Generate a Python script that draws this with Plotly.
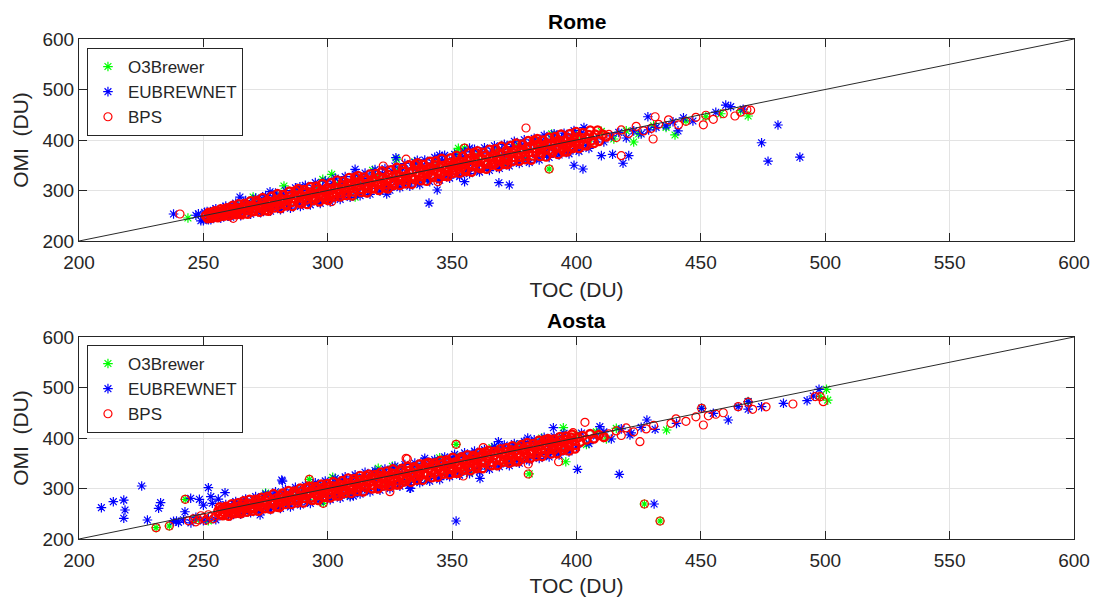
import plotly.graph_objects as go

# ---------------- Rome ----------------
rome_o3_toc = [252, 256, 260, 264, 268, 272, 276, 280, 284, 288,
               292, 296, 300, 304, 308, 312, 316, 320, 324, 328,
               332, 336, 340, 344, 348, 352, 356, 360, 364, 368,
               372, 376, 380, 384, 388, 392, 396, 400, 405, 410,
               243.8, 282.4, 301.6, 327.7, 352.5, 423, 439.6, 469, 415, 420,
               425, 431, 436, 444, 452, 458, 466, 389, 355,
               270, 298, 318, 335, 352, 372, 390, 311]
rome_o3_omi = [244, 261, 250, 270, 257, 279, 264, 288, 271, 297,
               278, 305, 284, 313, 293, 322, 299, 329, 308, 339,
               315, 346, 322, 355, 332, 364, 339, 370, 346, 379,
               356, 388, 363, 394, 370, 403, 381, 410, 391, 417,
               245.5, 309, 332, 362, 383.6, 396, 410, 447.5, 402, 418,
               412, 428, 425, 438, 446, 452, 458, 342.6, 384,
               287, 322, 340, 357, 376, 352, 412, 287]

rome_eub_toc = [247, 249, 250.5, 252, 254, 256, 258, 260, 262, 264,
                266, 268, 270, 272, 274, 276, 278, 280, 282, 284,
                286, 288, 290, 292, 294, 296, 298, 300, 302, 304,
                306, 308, 310, 312, 314, 316, 318, 320, 322, 324,
                326, 328, 330, 332, 334, 336, 338, 340, 342, 344,
                346, 348, 350, 352, 354, 356, 358, 360, 362, 364,
                366, 368, 370, 372, 374, 376, 378, 380, 382, 384,
                386, 388, 390, 392, 394, 396, 398, 400, 402, 404,
                248, 250, 251.5, 253, 255, 257, 259, 261, 263, 265,
                267, 269, 271, 273, 275, 277, 279, 281, 283, 285,
                287, 289, 291, 293, 295, 297, 299, 301, 303, 305,
                307, 309, 311, 313, 315, 317, 319, 321, 323, 325,
                327, 329, 331, 333, 335, 337, 339, 341, 343, 345,
                347, 349, 351, 353, 355, 357, 359, 361, 363, 365,
                367, 369, 371, 373, 375, 377, 379, 381, 383, 385,
                387, 389, 391, 393, 395, 397, 399, 401, 403, 405,
                262, 275, 289, 301, 315, 327, 343, 357, 371, 389,
                408, 411, 414, 417, 420, 423, 426, 429, 432, 436,
                238, 323.7, 340.7, 355, 368.8, 373, 399, 402.6, 410, 414.5,
                421, 418.7, 474.4, 481, 477, 489.8, 460, 467, 456, 446.8,
                440.8, 438.8, 428.7, 462, 311, 327.4, 357, 336, 345, 264.7,
                276.8, 288.8, 344, 443]
rome_eub_omi = [251, 240, 257, 242, 261, 247, 266, 249, 269, 254,
                274, 257, 278, 259, 283, 264, 286, 266, 292, 271,
                295, 273, 300, 278, 305, 280, 307, 283, 314, 289,
                317, 292, 322, 295, 324, 298, 331, 304, 333, 306,
                338, 311, 343, 314, 345, 317, 350, 323, 355, 326,
                359, 330, 361, 333, 366, 339, 371, 342, 374, 345,
                378, 349, 381, 354, 387, 359, 390, 361, 393, 366,
                399, 371, 402, 376, 405, 378, 408, 383, 414, 389,
                254, 240, 258.5, 242, 264, 245, 269, 247, 275, 250,
                280, 253, 285, 256, 290, 259, 295, 262, 300, 265,
                305.5, 268.5, 310.5, 271.5, 315.5, 274.5, 318.5, 277.5, 324.5, 282.5,
                327.5, 286.5, 332.5, 289.5, 334.5, 292.5, 341.5, 298.5, 343.5, 300.5,
                348.5, 305.5, 353.5, 308.5, 355.5, 311.5, 360.5, 317.5, 365.5, 320.5,
                369.5, 324.5, 371.5, 327.5, 376.5, 333.5, 381.5, 336.5, 384.5, 339.5,
                388.5, 343.5, 391.5, 348.5, 397.5, 353.5, 400.5, 355.5, 403.5, 360.5,
                409.5, 365.5, 412.5, 370.5, 413.5, 372.5, 418.5, 377.5, 424.5, 383.5,
                262, 270, 288, 296, 315, 321, 343, 352, 370, 384,
                402, 396, 408, 415, 404, 418, 412, 420, 425, 428,
                253.5, 293, 275, 317.4, 315.4, 311, 350, 342.6, 369, 371.7,
                369, 354, 394.6, 429.7, 358, 366, 469, 461, 455, 437.6,
                418, 436, 446, 466, 342, 365, 384, 360, 370, 287,
                297.6, 307.5, 301, 444]

# BPS: dense core of the distribution
rome_bps_toc = [251, 251.8, 252.5, 253.3, 254, 254.8, 255.5, 256.3, 257, 257.8,
                258.5, 259.3, 260, 260.8, 261.5, 262.3, 263, 263.8, 264.5, 265.3,
                266, 266.8, 267.5, 268.3, 269, 269.8, 270.5, 271.3, 272, 272.8,
                273.5, 274.3, 275, 275.8, 276.5, 277.3, 278, 278.8, 279.5, 280.3,
                281, 281.8, 282.5, 283.3, 284, 284.8, 285.5, 286.3, 287, 287.8,
                288.5, 289.3, 290, 290.8, 291.5, 292.3, 293, 293.8, 294.5, 295.3,
                296, 296.8, 297.5, 298.3, 299, 299.8, 300.5, 301.3, 302, 302.8,
                303.5, 304.3, 305, 305.8, 306.5, 307.3, 308, 308.8, 309.5, 310.3,
                311, 311.8, 312.5, 313.3, 314, 314.8, 315.5, 316.3, 317, 317.8,
                318.5, 319.3, 320, 320.8, 321.5, 322.3, 323, 323.8, 324.5, 325.3,
                326, 326.8, 327.5, 328.3, 329, 329.8, 330.5, 331.3, 332, 332.8,
                333.5, 334.3, 335, 335.8, 336.5, 337.3, 338, 338.8, 339.5, 340.3,
                341, 341.8, 342.5, 343.3, 344, 344.8, 345.5, 346.3, 347, 347.8,
                348.5, 349.3, 350, 350.8, 351.5, 352.3, 353, 353.8, 354.5, 355.3,
                356, 356.8, 357.5, 358.3, 359, 359.8, 360.5, 361.3, 362, 362.8,
                363.5, 364.3, 365, 365.8, 366.5, 367.3, 368, 368.8, 369.5, 370.3,
                371, 371.8, 372.5, 373.3, 374, 374.8, 375.5, 376.3, 377, 377.8,
                378.5, 379.3, 380, 380.8, 381.5, 382.3, 383, 383.8, 384.5, 385.3,
                386, 386.8, 387.5, 388.3, 389, 389.8, 390.5, 391.3, 392, 392.8,
                393.5, 394.3, 395, 395.8, 396.5, 397.3, 398, 398.8, 399.5, 400.3,
                401, 402, 403, 404, 405, 406, 407.5, 409, 410.5, 412,
                252.2, 253.4, 254.6, 255.8, 257, 258.2, 259.4, 260.6, 261.8, 263,
                264.2, 265.4, 266.6, 267.8, 269, 270.2, 271.4, 272.6, 273.8, 275,
                276.2, 277.4, 278.6, 279.8, 281, 282.2, 283.4, 284.6, 285.8, 287,
                288.2, 289.4, 290.6, 291.8, 293, 294.2, 295.4, 296.6, 297.8, 299,
                300.2, 301.4, 302.6, 303.8, 305, 306.2, 307.4, 308.6, 309.8, 311,
                312.2, 313.4, 314.6, 315.8, 317, 318.2, 319.4, 320.6, 321.8, 323,
                324.2, 325.4, 326.6, 327.8, 329, 330.2, 331.4, 332.6, 333.8, 335,
                336.2, 337.4, 338.6, 339.8, 341, 342.2, 343.4, 344.6, 345.8, 347,
                348.2, 349.4, 350.6, 351.8, 353, 354.2, 355.4, 356.6, 357.8, 359,
                360.2, 361.4, 362.6, 363.8, 365, 366.2, 367.4, 368.6, 369.8, 371,
                372.2, 373.4, 374.6, 375.8, 377, 378.2, 379.4, 380.6, 381.8, 383,
                384.2, 385.4, 386.6, 387.8, 389, 390.2, 391.4, 392.6, 393.8, 395,
                396.2, 397.4, 398.6, 399.8, 401, 402.5, 404, 405.5, 407, 408.5]
rome_bps_omi = [250, 245, 254, 249, 257, 250, 255, 249, 255, 260,
                253, 260, 251, 264, 258, 256, 266, 259, 264, 257,
                267, 263, 271, 261, 268, 270, 264, 275, 268, 270,
                264, 276, 270, 280, 266, 276, 271, 280, 278, 272,
                284, 276, 282, 273, 281, 289, 277, 285, 283, 290,
                277, 290, 284, 296, 282, 290, 296, 287, 294, 284,
                302, 292, 300, 288, 297, 305, 288, 301, 294, 306,
                296, 303, 294, 310, 303, 298, 314, 303, 310, 298,
                313, 308, 317, 303, 314, 308, 321, 305, 315, 321,
                305, 319, 312, 327, 316, 325, 312, 322, 331, 318,
                327, 315, 331, 322, 328, 321, 337, 327, 321, 335,
                325, 339, 322, 336, 331, 343, 328, 341, 336, 333,
                345, 331, 341, 350, 336, 346, 332, 349, 341, 346,
                338, 355, 345, 353, 339, 352, 358, 346, 352, 342,
                359, 351, 364, 348, 358, 356, 364, 349, 363, 355,
                369, 353, 365, 361, 369, 354, 366, 374, 360, 371,
                364, 379, 360, 372, 376, 366, 380, 371, 366, 381,
                376, 369, 384, 375, 387, 369, 384, 376, 391, 381,
                375, 389, 382, 393, 380, 389, 377, 395, 385, 399,
                394, 382, 398, 388, 404, 394, 388, 400, 394, 405,
                392, 404, 390, 403, 410, 399, 411, 398, 411, 407,
                256, 246, 259, 247, 263, 250, 265, 251, 270, 253,
                273, 253, 274, 254, 279, 259, 280, 258, 285, 261,
                260, 288, 266, 293, 265, 291, 270, 298, 269, 299,
                303, 274, 301, 273, 307, 281, 308, 278, 313, 283,
                281, 315, 288, 320, 288, 318, 291, 325, 290, 326,
                329, 297, 326, 296, 332, 304, 333, 301, 338, 306,
                304, 340, 311, 345, 311, 343, 314, 350, 313, 351,
                354, 320, 351, 319, 357, 327, 358, 324, 363, 329,
                328, 364, 335, 369, 335, 367, 338, 374, 337, 375,
                378, 344, 375, 343, 381, 351, 382, 348, 387, 353,
                352, 388, 359, 393, 359, 391, 362, 398, 361, 399,
                402, 368, 399, 367, 405, 375, 406, 372, 411, 377,
                377, 412, 384, 416, 384, 414, 389, 419, 394, 419]
# BPS: isolated points away from the core
rome_bps_sparse_toc = [240.6, 262, 301.6, 322.3, 331.5, 344.3, 355, 379.7, 389, 418,
                       451, 463.7, 470, 431.6, 430.8, 413, 416, 418, 421, 424,
                       427, 430, 433, 437, 441, 444, 448, 452, 455, 459,
                       466, 468.5]
rome_bps_sparse_omi = [253.5, 245, 278, 348.5, 362, 317.4, 384, 423.8, 342.6, 369,
                       430, 447.5, 459, 446, 402, 411, 405, 420, 413, 427,
                       418, 423, 431, 440, 430, 437, 445, 449, 441, 452,
                       455, 460]

# ---------------- Aosta ----------------
aosta_o3_toc = [260, 264, 268, 272, 276, 280, 284, 288, 292, 296,
                300, 304, 308, 312, 316, 320, 324, 328, 332, 336,
                340, 344, 348, 352, 356, 360, 364, 368, 372, 376,
                380, 384, 388, 392, 396, 400, 404, 408, 412, 416,
                231, 236.3, 242.7, 247, 252, 292.6, 298.2, 320.3, 351.6, 394.7,
                395.7, 427.3, 433.6, 436.2, 450.3, 469, 498, 500.5, 501, 381,
                275, 302, 326, 345, 366, 386, 309, 357]
aosta_o3_omi = [249, 269, 256, 279, 264, 288, 271, 297, 278, 305,
                283, 312, 292, 321, 298, 328, 307, 338, 314, 344,
                320, 353, 330, 362, 337, 368, 344, 377, 354, 386,
                360, 391, 367, 400, 378, 407, 387, 412, 398, 419,
                222.4, 225.7, 278.6, 239, 236, 318, 270.7, 340, 387.5, 420.4,
                353, 269.3, 235.6, 415.8, 458.8, 472, 482, 496.4, 475, 329,
                291, 322, 344, 361, 381, 400, 286, 332]

aosta_eub_toc = [258, 260, 262, 264, 266, 268, 270, 272, 274, 276,
                 278, 280, 282, 284, 286, 288, 290, 292, 294, 296,
                 298, 300, 302, 304, 306, 308, 310, 312, 314, 316,
                 318, 320, 322, 324, 326, 328, 330, 332, 334, 336,
                 338, 340, 342, 344, 346, 348, 350, 352, 354, 356,
                 358, 360, 362, 364, 366, 368, 370, 372, 374, 376,
                 378, 380, 382, 384, 386, 388, 390, 392, 394, 396,
                 259, 261, 263, 265, 267, 269, 271, 273, 275, 277,
                 279, 281, 283, 285, 287, 289, 291, 293, 295, 297,
                 299, 301, 303, 305, 307, 309, 311, 313, 315, 317,
                 319, 321, 323, 325, 327, 329, 331, 333, 335, 337,
                 339, 341, 343, 345, 347, 349, 351, 353, 355, 357,
                 359, 361, 363, 365, 367, 369, 371, 373, 375, 377,
                 379, 381, 383, 385, 387, 389, 391, 393, 395, 397,
                 265, 279, 291, 305, 319, 333, 347, 361, 375, 389,
                 398, 400, 402, 405, 408, 411, 414, 418, 422, 426,
                 209, 213.8, 218, 218.5, 218, 225.2, 227.5, 232, 232.8, 239.2,
                 242.6, 244.9, 248.4, 252, 253, 256, 258.7, 250, 253.6, 281.8,
                 240, 242, 245, 247, 250, 252, 255, 238, 272.8, 310.3,
                 333, 339, 351.6, 390.7, 380.4, 368.6, 333.3, 361.2, 417.2, 400.4,
                 431.2, 409.4, 428.3, 431.6, 421.5, 440.2, 450.3, 455, 461, 469,
                 469, 483.2, 492.7, 495.2, 497.5, 474.4, 465, 281.5]
aosta_eub_omi = [265, 248, 270, 251, 275, 254, 278, 257, 284, 262,
                 287, 264, 291, 269, 296, 272, 299, 275, 304, 281,
                 308, 283, 311, 286, 317, 291, 320, 293, 323, 298,
                 329, 302, 332, 305, 338, 310, 341, 312, 343, 316,
                 349, 320, 352, 323, 355, 328, 361, 333, 364, 335,
                 368, 339, 371, 344, 377, 349, 380, 351, 383, 356,
                 388, 360, 391, 365, 394, 367, 397, 372, 403, 378,
                 268, 246, 274, 249, 279, 252, 284, 255, 289, 258,
                 293.5, 260.5, 297.5, 263.5, 302.5, 267.5, 306.5, 270.5, 311.5, 274.5,
                 315, 278, 320, 281, 323, 284, 327, 289, 332, 293,
                 335.5, 296.5, 338.5, 299.5, 344.5, 304.5, 347.5, 307.5, 350.5, 311.5,
                 354.5, 314.5, 357.5, 317.5, 362.5, 323.5, 367.5, 326.5, 370.5, 329.5,
                 374, 333, 377, 338, 383, 343, 386, 345, 389, 350,
                 393.5, 354.5, 396.5, 359.5, 401.5, 362.5, 403.5, 366.5, 409.5, 372.5,
                 262, 275, 287, 300, 314, 327, 342, 355, 370, 383,
                 395, 382, 410, 389, 404, 412, 398, 418, 410, 421,
                 262, 273.9, 277, 257.4, 241, 305, 237.6, 260.8, 271.9, 235.6,
                 254, 280.6, 278.6, 301.6, 283.8, 279, 291.7, 267, 270.7, 314.8,
                 233, 238, 232, 243, 236, 240, 238, 235, 247.5, 285,
                 300.4, 360, 235.6, 420.4, 400, 392.7, 300.4, 320, 328, 338,
                 269.3, 422.4, 435.6, 417.2, 406, 429, 458.8, 448.9, 435.6, 471.9,
                 457, 468.7, 473.9, 483.2, 496.4, 462, 462, 316.8]

aosta_bps_toc = [256, 256.8, 257.5, 258.3, 259, 259.8, 260.5, 261.3, 262, 262.8,
                 263.5, 264.3, 265, 265.8, 266.5, 267.3, 268, 268.8, 269.5, 270.3,
                 271, 271.8, 272.5, 273.3, 274, 274.8, 275.5, 276.3, 277, 277.8,
                 278.5, 279.3, 280, 280.8, 281.5, 282.3, 283, 283.8, 284.5, 285.3,
                 286, 286.8, 287.5, 288.3, 289, 289.8, 290.5, 291.3, 292, 292.8,
                 293.5, 294.3, 295, 295.8, 296.5, 297.3, 298, 298.8, 299.5, 300.3,
                 301, 301.8, 302.5, 303.3, 304, 304.8, 305.5, 306.3, 307, 307.8,
                 308.5, 309.3, 310, 310.8, 311.5, 312.3, 313, 313.8, 314.5, 315.3,
                 316, 316.8, 317.5, 318.3, 319, 319.8, 320.5, 321.3, 322, 322.8,
                 323.5, 324.3, 325, 325.8, 326.5, 327.3, 328, 328.8, 329.5, 330.3,
                 331, 331.8, 332.5, 333.3, 334, 334.8, 335.5, 336.3, 337, 337.8,
                 338.5, 339.3, 340, 340.8, 341.5, 342.3, 343, 343.8, 344.5, 345.3,
                 346, 346.8, 347.5, 348.3, 349, 349.8, 350.5, 351.3, 352, 352.8,
                 353.5, 354.3, 355, 355.8, 356.5, 357.3, 358, 358.8, 359.5, 360.3,
                 361, 361.8, 362.5, 363.3, 364, 364.8, 365.5, 366.3, 367, 367.8,
                 368.5, 369.3, 370, 370.8, 371.5, 372.3, 373, 373.8, 374.5, 375.3,
                 376, 376.8, 377.5, 378.3, 379, 379.8, 380.5, 381.3, 382, 382.8,
                 383.5, 384.3, 385, 385.8, 386.5, 387.3, 388, 388.8, 389.5, 390.3,
                 391, 391.8, 392.5, 393.3, 394, 394.8, 395.5, 396.3, 397, 397.8,
                 398.5, 399.5, 400.5, 401.5, 402.5, 404, 405.5, 407, 409, 411,
                 256.6, 257.8, 259, 260.2, 261.4, 262.6, 263.8, 265, 266.2, 267.4,
                 268.6, 269.8, 271, 272.2, 273.4, 274.6, 275.8, 277, 278.2, 279.4,
                 280.6, 281.8, 283, 284.2, 285.4, 286.6, 287.8, 289, 290.2, 291.4,
                 292.6, 293.8, 295, 296.2, 297.4, 298.6, 299.8, 301, 302.2, 303.4,
                 304.6, 305.8, 307, 308.2, 309.4, 310.6, 311.8, 313, 314.2, 315.4,
                 316.6, 317.8, 319, 320.2, 321.4, 322.6, 323.8, 325, 326.2, 327.4,
                 328.6, 329.8, 331, 332.2, 333.4, 334.6, 335.8, 337, 338.2, 339.4,
                 340.6, 341.8, 343, 344.2, 345.4, 346.6, 347.8, 349, 350.2, 351.4,
                 352.6, 353.8, 355, 356.2, 357.4, 358.6, 359.8, 361, 362.2, 363.4,
                 364.6, 365.8, 367, 368.2, 369.4, 370.6, 371.8, 373, 374.2, 375.4,
                 376.6, 377.8, 379, 380.2, 381.4, 382.6, 383.8, 385, 386.2, 387.4,
                 388.6, 389.8, 391, 392.2, 393.4, 394.6, 395.8, 397, 398.2, 399.4]
aosta_bps_omi = [255, 249, 260, 253, 262, 253, 259, 252, 262, 259,
                 257, 265, 256, 269, 264, 261, 270, 261, 269, 261,
                 273, 267, 277, 264, 272, 276, 268, 280, 271, 275,
                 269, 281, 275, 285, 273, 281, 276, 285, 283, 277,
                 290, 279, 287, 277, 286, 294, 281, 290, 288, 294,
                 282, 295, 289, 300, 287, 295, 301, 291, 299, 289,
                 305, 296, 304, 292, 301, 308, 294, 305, 298, 310,
                 301, 307, 298, 314, 308, 302, 317, 307, 315, 303,
                 317, 312, 322, 307, 318, 312, 326, 309, 319, 325,
                 310, 323, 316, 330, 320, 329, 316, 325, 334, 322,
                 331, 318, 335, 326, 332, 324, 340, 331, 325, 338,
                 329, 342, 326, 339, 335, 346, 331, 344, 340, 336,
                 348, 334, 345, 352, 339, 349, 337, 352, 344, 349,
                 342, 358, 348, 356, 342, 355, 361, 349, 356, 345,
                 362, 354, 368, 351, 361, 359, 368, 352, 366, 358,
                 372, 356, 368, 363, 372, 357, 369, 376, 363, 374,
                 367, 381, 363, 375, 379, 368, 383, 374, 369, 383,
                 379, 371, 386, 377, 390, 371, 386, 378, 394, 383,
                 377, 391, 385, 395, 382, 391, 380, 397, 387, 401,
                 395, 386, 401, 392, 404, 397, 408, 399, 406, 402,
                 263, 247, 264, 246, 269, 251, 271, 251, 275, 254,
                 278, 256, 278, 256, 282, 261, 284, 260, 289, 264,
                 263, 290, 269, 295, 269, 294, 272, 300, 272, 301,
                 304, 277, 303, 277, 308, 283, 309, 282, 313, 286,
                 286, 315, 291, 320, 291, 319, 295, 325, 294, 325,
                 328, 300, 327, 300, 332, 306, 334, 305, 338, 308,
                 308, 339, 314, 343, 313, 342, 317, 348, 317, 349,
                 351, 322, 350, 323, 355, 329, 356, 328, 361, 331,
                 331, 362, 337, 366, 336, 365, 340, 371, 340, 372,
                 375, 346, 373, 346, 378, 353, 380, 351, 384, 354,
                 354, 386, 361, 390, 360, 388, 364, 395, 364, 396,
                 398, 369, 397, 370, 402, 376, 403, 375, 407, 379]
aosta_bps_sparse_toc = [231, 236.3, 242.7, 244, 246, 248, 250, 251, 253, 254,
                        255, 247, 249, 252, 292.6, 298.2, 325, 331.5, 351.6, 354.5,
                        362.5, 332, 380.6, 380.6, 392.8, 398.6, 403.4, 413, 416, 418,
                        420, 423, 425.5, 427.3, 428, 431, 433.6, 438, 440, 444,
                        448, 451, 453, 456, 459, 465, 469, 470.8, 476.2, 487,
                        496, 498, 499.2, 450.3]
aosta_bps_sparse_omi = [222.4, 225.7, 278.6, 236, 240, 238, 242, 237, 244, 240,
                        246, 234, 246, 248, 318, 270.7, 293.7, 359.8, 387.5, 324.8,
                        381, 358.4, 348.5, 328.7, 353, 410.5, 431, 408, 414, 405,
                        420, 412, 392.7, 269.3, 418, 425, 235.6, 429, 438, 433,
                        442, 425.7, 444, 447, 450, 462, 471, 456.8, 461.7, 467.3,
                        482, 481.8, 471.9, 458.8]

# 1:1 reference line
one_to_one = [200, 600]

GREEN, BLUE, RED = "#00ff00", "#0000ff", "#ff0000"

panels = [
    dict(xa="x", ya="y", leg="legend",
         o3=(rome_o3_toc, rome_o3_omi), eub=(rome_eub_toc, rome_eub_omi),
         bps=(rome_bps_toc, rome_bps_omi), bps_sparse=(rome_bps_sparse_toc, rome_bps_sparse_omi)),
    dict(xa="x2", ya="y2", leg="legend2",
         o3=(aosta_o3_toc, aosta_o3_omi), eub=(aosta_eub_toc, aosta_eub_omi),
         bps=(aosta_bps_toc, aosta_bps_omi), bps_sparse=(aosta_bps_sparse_toc, aosta_bps_sparse_omi)),
]


def star_trace(xy, name, color, p, width=1.2):
    return go.Scatter(
        x=xy[0], y=xy[1], mode="markers", name=name, xaxis=p["xa"], yaxis=p["ya"],
        legend=p["leg"],
        marker=dict(symbol="asterisk-open", size=8, color=color, line=dict(color=color, width=width)),
    )


fig = go.Figure()
for p in panels:
    fig.add_trace(star_trace(p["o3"], "O3Brewer", GREEN, p))
    fig.add_trace(star_trace(p["eub"], "EUBREWNET", BLUE, p))
    # dense BPS core: heavier ring so overlapping circles merge into a solid band
    fig.add_trace(go.Scatter(
        x=p["bps"][0], y=p["bps"][1], mode="markers", name="BPS", xaxis=p["xa"], yaxis=p["ya"],
        legend=p["leg"], legendgroup=p["leg"] + "bps", showlegend=False,
        marker=dict(symbol="circle-open", size=8, color=RED, line=dict(color=RED, width=2.4)),
    ))
    fig.add_trace(go.Scatter(
        x=p["bps_sparse"][0], y=p["bps_sparse"][1], mode="markers", name="BPS",
        xaxis=p["xa"], yaxis=p["ya"], legend=p["leg"], legendgroup=p["leg"] + "bps",
        marker=dict(symbol="circle-open", size=8, color=RED, line=dict(color=RED, width=1.2)),
    ))
    fig.add_trace(go.Scatter(
        x=one_to_one, y=one_to_one, mode="lines", xaxis=p["xa"], yaxis=p["ya"], showlegend=False,
        line=dict(color="#2a2a2a", width=1), hoverinfo="skip",
    ))

ink = "#262626"
font_family = "Liberation Sans, Arial, sans-serif"

axis_common = dict(
    range=[200, 600], showline=True, linecolor=ink, linewidth=1, mirror="allticks",
    ticks="inside", ticklen=8, tickwidth=1, tickcolor=ink, automargin=False,
    showgrid=True, gridcolor="#e3e3e3", gridwidth=1, zeroline=False,
    tickfont=dict(family=font_family, size=19, color=ink),
)
xcommon = dict(axis_common, dtick=50, tick0=200, ticklabelstandoff=4,
               title=dict(text="TOC (DU)", font=dict(family=font_family, size=21, color=ink), standoff=10))
ycommon = dict(axis_common, dtick=100, tick0=200,
               title=dict(text="OMI\u00a0 (DU)", font=dict(family=font_family, size=21, color=ink), standoff=8))

legend_common = dict(
    x=0.008, xanchor="left", yanchor="top", bgcolor="white", bordercolor=ink, borderwidth=1,
    font=dict(family=font_family, size=17, color=ink), tracegroupgap=0, traceorder="normal",
)

fig.update_layout(
    width=1093, height=597, autosize=False,
    margin=dict(l=79, r=19, t=39, b=58, autoexpand=False),
    paper_bgcolor="white", plot_bgcolor="white",
    xaxis=dict(xcommon, domain=[0, 1], anchor="y"),
    yaxis=dict(ycommon, domain=[0.596, 1], anchor="x"),
    xaxis2=dict(xcommon, domain=[0, 1], anchor="y2"),
    yaxis2=dict(ycommon, domain=[0, 0.404], anchor="x2"),
    legend=dict(legend_common, y=0.982),
    legend2=dict(legend_common, y=0.388),
    annotations=[
        dict(text="<b>Rome</b>", x=0.5, y=1.034, xref="paper", yref="paper", showarrow=False,
             xanchor="center", yanchor="middle", font=dict(family=font_family, size=21, color="black")),
        dict(text="<b>Aosta</b>", x=0.5, y=0.438, xref="paper", yref="paper", showarrow=False,
             xanchor="center", yanchor="middle", font=dict(family=font_family, size=21, color="black")),
    ],
    showlegend=True,
)

fig.write_html("out.html")
